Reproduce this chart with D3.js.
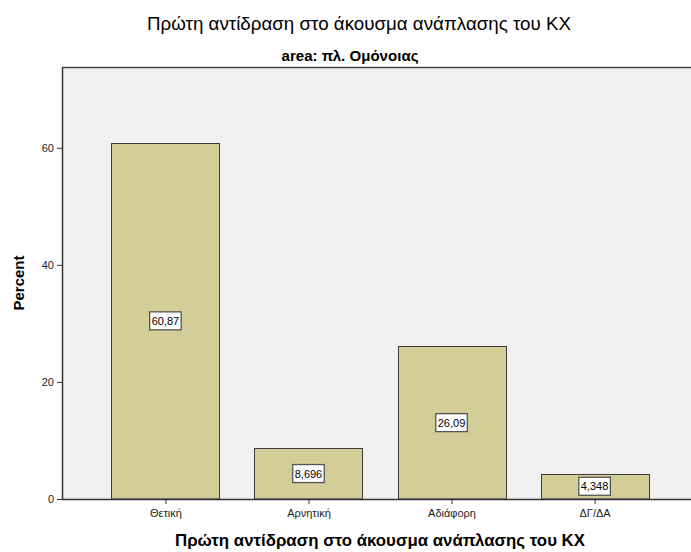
<!DOCTYPE html>
<html><head><meta charset="utf-8">
<script src="https://cdn.jsdelivr.net/npm/d3@7"></script>
<style>body{margin:0;background:#fff;}svg{display:block;font-family:"Liberation Sans",Arial,sans-serif;}</style>
</head><body>
<svg id="c" width="691" height="552"></svg>
<script>
const categories = ["Θετική", "Αρνητική", "Αδιάφορη", "ΔΓ/ΔΑ"];
const values = [60.87, 8.696, 26.09, 4.348];
const valueLabels = ["60,87", "8,696", "26,09", "4,348"];
const yTicks = [0, 20, 40, 60];
const title = "Πρώτη αντίδραση στο άκουσμα ανάπλασης του ΚΧ";
const subtitle = "area: πλ. Ομόνοιας";
const xTitle = "Πρώτη αντίδραση στο άκουσμα ανάπλασης του ΚΧ";
const yTitle = "Percent";

(function () {
const svg = d3.select("#c");
const pL = 62, pR = 700, pT = 67, pB = 499;

const y = d3.scaleLinear().domain([0, 73.8]).range([pB, pT]);
const x = d3.scalePoint().domain(categories).range([66, 694]).padding(0.695);
const bw = 108;

svg.append("rect").attr("x", pL).attr("y", pT).attr("width", pR - pL).attr("height", pB - pT)
  .attr("fill", "#f0f0f0");
svg.append("line").attr("x1", pL).attr("x2", pR).attr("y1", pT + 0.5).attr("y2", pT + 0.5)
  .attr("stroke", "#444").attr("stroke-width", 1.5);

const g = svg.append("g");
g.selectAll("rect.bar").data(values).join("rect").attr("class", "bar")
  .attr("x", (d, i) => Math.round(x(categories[i]) - bw / 2) + 0.5)
  .attr("y", d => Math.round(y(d)) + 0.5)
  .attr("width", bw)
  .attr("height", d => pB - Math.round(y(d)) - 0.5)
  .attr("fill", "#d3ce97")
  .attr("stroke", "#3c3c3c").attr("stroke-width", 1);

values.forEach((v, i) => {
  const cx = x(categories[i]);
  let cy = y(v / 2);
  if (cy > pB - 11) cy = pB - 11;
  const t = g.append("text").attr("x", cx).attr("y", cy + 4).attr("text-anchor", "middle")
    .attr("font-size", 11).attr("fill", "#000").text(valueLabels[i]);
  const w = t.node().getComputedTextLength() + 4;
  g.insert("rect", "text").attr("x", cx - w / 2).attr("y", cy - 9).attr("width", w).attr("height", 18)
    .attr("fill", "#fff").attr("stroke", "#555").attr("stroke-width", 1.3);
  t.raise();
});

const yAxis = d3.axisLeft(y).tickValues(yTicks).tickSize(5).tickSizeOuter(0);
const ya = svg.append("g").attr("transform", `translate(${pL},0)`).call(yAxis);
ya.select(".domain").attr("stroke", "#333").attr("stroke-width", 1.5);
ya.selectAll(".tick line").attr("stroke", "#333");
ya.selectAll(".tick text").attr("font-size", 11).attr("fill", "#222").attr("font-family", "Liberation Sans, Arial, sans-serif");

const xAxis = d3.axisBottom(x).tickSize(5).tickSizeOuter(0);
const xa = svg.append("g").attr("transform", `translate(0,${pB})`).call(xAxis);
xa.select(".domain").attr("d", `M${pL},0.5H${pR}`).attr("stroke", "#333").attr("stroke-width", 1.5);
xa.selectAll(".tick line").attr("stroke", "#333");
xa.selectAll(".tick text").attr("font-size", 11).attr("fill", "#222").attr("dy", "0.9em").attr("font-family", "Liberation Sans, Arial, sans-serif");

svg.append("text").attr("x", 359).attr("y", 30).attr("text-anchor", "middle")
  .attr("font-size", 19).attr("fill", "#000")
  .attr("textLength", 424).attr("lengthAdjust", "spacingAndGlyphs").text(title);
svg.append("text").attr("x", 350).attr("y", 61).attr("text-anchor", "middle")
  .attr("font-size", 14).attr("font-weight", "bold").attr("fill", "#000")
  .attr("textLength", 137).attr("lengthAdjust", "spacingAndGlyphs").text(subtitle);
svg.append("text").attr("x", 380).attr("y", 546).attr("text-anchor", "middle")
  .attr("font-size", 17).attr("font-weight", "bold").attr("fill", "#000")
  .attr("textLength", 410).attr("lengthAdjust", "spacingAndGlyphs").text(xTitle);
svg.append("text").attr("transform", `translate(24,${(pT + pB) / 2}) rotate(-90)`).attr("text-anchor", "middle")
  .attr("font-size", 15).attr("font-weight", "bold").attr("fill", "#000").text(yTitle);
})();
</script>
</body></html>
